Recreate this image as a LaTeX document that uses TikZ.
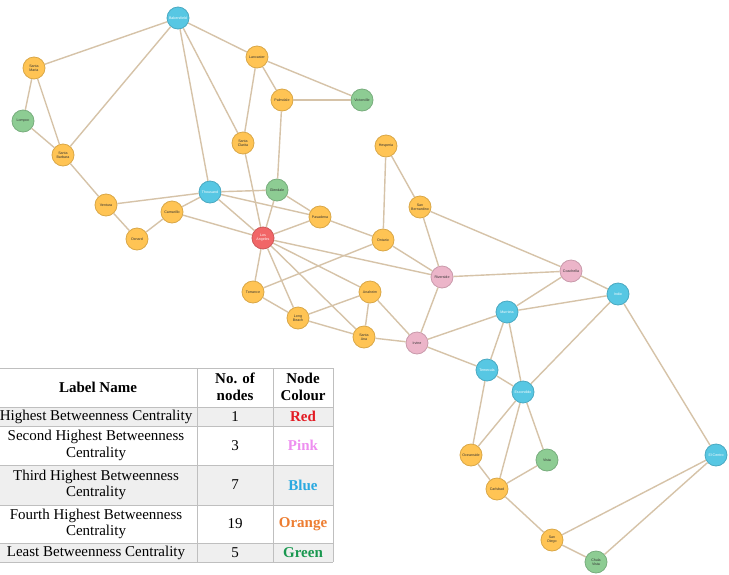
\documentclass[tikz,border=0pt]{standalone}
\usepackage{fontspec}
\setmainfont{Liberation Serif}
\setsansfont{Liberation Sans}
\definecolor{nOrange}{HTML}{FFC454}
\definecolor{nBlue}{HTML}{57C7E3}
\definecolor{nGreen}{HTML}{8DCC93}
\definecolor{nRed}{HTML}{F16667}
\definecolor{nPink}{HTML}{ECB5C9}
\definecolor{edgec}{HTML}{D6C3A8}
\definecolor{rowgray}{HTML}{EFEFEF}
\definecolor{tRed}{HTML}{E31B23}
\definecolor{tPink}{HTML}{EE8EF0}
\definecolor{tBlue}{HTML}{2AA9E0}
\definecolor{tOrange}{HTML}{ED7D31}
\definecolor{tGreen}{HTML}{1A9850}
\begin{document}
\begin{tikzpicture}[x=1pt,y=-1pt,
  city/.style={circle,minimum size=22pt,inner sep=0pt,line width=0.8pt,align=center,
    font=\sffamily\fontsize{3.6}{4}\selectfont},
  orng/.style={city,fill=nOrange,draw=nOrange!85!black,text=black!80},
  blu/.style={city,fill=nBlue,draw=nBlue!85!black,text=white},
  grn/.style={city,fill=nGreen,draw=nGreen!85!black,text=black!80},
  rd/.style={city,fill=nRed,draw=nRed!85!black,text=white},
  pnk/.style={city,fill=nPink,draw=nPink!85!black,text=black!80},
  edge/.style={draw=edgec,line width=1.4pt},
  cell/.style={align=center,font=\fontsize{15}{16.5}\selectfont,inner sep=0pt},
  hcell/.style={cell,font=\bfseries\fontsize{15}{16.5}\selectfont},
  grid/.style={draw=black!25,line width=0.6pt}]
\useasboundingbox (0,0) rectangle (729,574);
\fill[white] (0,0) rectangle (729,574);

% nodes
\node[blu]  (bak) at (178,18) {Bakersfield};
\node[orng] (smr) at (34,68) {Santa\\Maria};
\node[grn]  (lom) at (23,121) {Lompoc};
\node[orng] (sba) at (63,155) {Santa\\Barbara};
\node[orng] (lan) at (257,57) {Lancaster};
\node[orng] (pal) at (282,100) {Palmdale};
\node[grn]  (vic) at (362,100) {Victorville};
\node[orng] (scl) at (243,143) {Santa\\Clarita};
\node[orng] (hes) at (386,146) {Hesperia};
\node[orng] (ven) at (106,205) {Ventura};
\node[blu]  (tho) at (210,192) {Thousand};
\node[grn]  (gle) at (277,190) {Glendale};
\node[orng] (cam) at (172,212) {Camarillo};
\node[orng] (oxn) at (137,239) {Oxnard};
\node[rd]   (la)  at (263,238) {Los\\Angeles};
\node[orng] (pas) at (320,217) {Pasadena};
\node[orng] (sbe) at (420,207) {San\\Bernardino};
\node[orng] (ont) at (383,240) {Ontario};
\node[pnk]  (riv) at (442,277) {Riverside};
\node[pnk]  (coa) at (571,271) {Coachella};
\node[blu]  (ind) at (618,294) {Indio};
\node[blu]  (mur) at (507,312) {Murrieta};
\node[pnk]  (irv) at (417,343) {Irvine};
\node[blu]  (tem) at (487,370) {Temecula};
\node[blu]  (esc) at (523,392) {Escondido};
\node[orng] (tor) at (253,292) {Torrance};
\node[orng] (lbe) at (298,318) {Long\\Beach};
\node[orng] (ana) at (370,292) {Anaheim};
\node[orng] (san) at (364,337) {Santa\\Ana};
\node[orng] (oce) at (471,455) {Oceanside};
\node[orng] (car) at (497,489) {Carlsbad};
\node[grn]  (vis) at (547,460) {Vista};
\node[orng] (sdi) at (552,540) {San\\Diego};
\node[grn]  (chu) at (596,562) {Chula\\Vista};
\node[blu]  (elc) at (716,455) {El Centro};

% edges
\foreach \a/\b in {bak/smr,bak/sba,bak/tho,bak/scl,bak/lan,
  smr/lom,smr/sba,lom/sba,sba/ven,ven/oxn,ven/tho,oxn/cam,cam/tho,cam/la,
  tho/gle,tho/la,tho/pas,lan/pal,lan/vic,lan/scl,pal/vic,pal/gle,scl/la,
  gle/la,gle/pas,pas/la,pas/ont,la/riv,la/tor,la/lbe,la/san,la/ana,
  tor/ont,hes/ont,hes/sbe,sbe/riv,sbe/coa,ont/riv,riv/coa,riv/irv,
  tor/lbe,lbe/ana,lbe/san,ana/san,ana/irv,san/irv,
  irv/mur,irv/tem,mur/coa,mur/ind,mur/tem,mur/esc,coa/ind,ind/esc,ind/elc,
  tem/esc,tem/oce,esc/oce,esc/car,esc/vis,oce/car,car/vis,car/sdi,
  sdi/elc,sdi/chu,chu/elc}
  \draw[edge] (\a) -- (\b);

% table
\fill[white] (-10,368) rectangle (333,407);
\fill[rowgray] (-10,407) rectangle (333,426);
\fill[white] (-10,426) rectangle (333,465);
\fill[rowgray] (-10,465) rectangle (333,505);
\fill[white] (-10,505) rectangle (333,543);
\fill[rowgray] (-10,543) rectangle (333,562);
\foreach \yy in {368,407,426,465,505,543,562}
  \draw[grid] (-10,\yy) -- (333,\yy);
\foreach \xx in {197,273,333}
  \draw[grid] (\xx,368) -- (\xx,562);

\node[hcell] (h1) at (98,387) {Label Name};
\node[hcell] (h2) at (235,387) {No. of\\nodes};
\node[hcell] (h3) at (303,387) {Node\\Colour};

\node[cell] (l1) at (96,416.5) {Highest Betweenness Centrality};
\node[cell] (n1) at (235,416.5) {1};
\node[hcell,text=tRed] (c1) at (303,416.5) {Red};

\node[cell] (l2) at (96,445.5) {Second Highest Betweenness\\Centrality};
\node[cell] (n2) at (235,445.5) {3};
\node[hcell,text=tPink] (c2) at (303,445.5) {Pink};

\node[cell] (l3) at (96,485) {Third Highest Betweenness\\Centrality};
\node[cell] (n3) at (235,485) {7};
\node[hcell,text=tBlue] (c3) at (303,485) {Blue};

\node[cell] (l4) at (96,524) {Fourth Highest Betweenness\\Centrality};
\node[cell] (n4) at (235,524) {19};
\node[hcell,text=tOrange] (c4) at (303,524) {Orange};

\node[cell] (l5) at (96,552.5) {Least Betweenness Centrality};
\node[cell] (n5) at (235,552.5) {5};
\node[hcell,text=tGreen] (c5) at (303,552.5) {Green};
\end{tikzpicture}
\end{document}
